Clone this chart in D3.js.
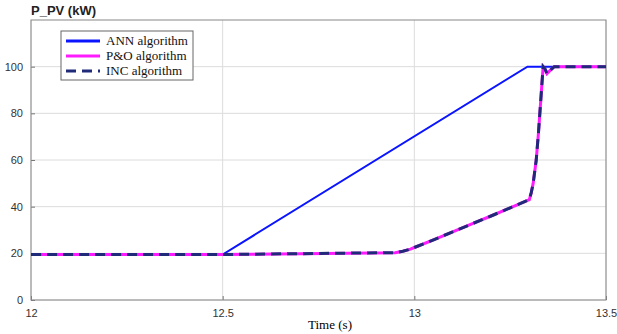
<!DOCTYPE html>
<html>
<head>
<meta charset="utf-8">
<script src="https://cdn.jsdelivr.net/npm/d3@7"></script>
<style>
body { margin: 0; background: #fff; }
svg { display: block; }
</style>
</head>
<body>
<div id="chart"></div>
<script>
// time (s)
var annTime = [12, 12.5, 13.295, 13.5];
var annPower = [19.5, 19.5, 100, 100];

var poTime = [12, 12.5, 12.95, 12.97, 12.99, 13.0, 13.05, 13.1, 13.15, 13.2, 13.25, 13.3, 13.305, 13.31, 13.318, 13.324, 13.33, 13.336, 13.341, 13.346, 13.355, 13.365, 13.5];
var poPower = [19.5, 19.5, 20.3, 20.9, 21.8, 22.5, 25.8, 29.2, 32.6, 36.0, 39.5, 43, 46, 50, 60, 72, 86, 100, 99, 97, 98.5, 100, 100];

// INC follows P&O closely
var incTime = poTime.slice();
var incPower = poPower.slice();

var xTicks = [12, 12.5, 13, 13.5];
var yTicks = [0, 20, 40, 60, 80, 100];

var width = 617, height = 334;
var plotLeft = 31, plotRight = 606, plotTop = 20, plotBottom = 300;

var x = d3.scaleLinear().domain([12, 13.5]).range([plotLeft, plotRight]);
var y = d3.scaleLinear().domain([0, 120]).range([plotBottom, plotTop]);

var svg = d3.select("#chart").append("svg")
	.attr("width", width)
	.attr("height", height);

// grid
svg.append("g").selectAll("line")
	.data(xTicks).enter().append("line")
	.attr("x1", d => x(d)).attr("x2", d => x(d))
	.attr("y1", plotTop).attr("y2", plotBottom)
	.attr("stroke", "#dcdcdc").attr("stroke-width", 1);
svg.append("g").selectAll("line")
	.data(yTicks).enter().append("line")
	.attr("x1", plotLeft).attr("x2", plotRight)
	.attr("y1", d => y(d)).attr("y2", d => y(d))
	.attr("stroke", "#dcdcdc").attr("stroke-width", 1);

// axes
var xAxis = d3.axisBottom(x).tickValues(xTicks).tickSize(-4).tickPadding(9)
	.tickFormat(d3.format("~g"));
var yAxis = d3.axisLeft(y).tickValues(yTicks).tickSize(-4).tickPadding(8);

var gx = svg.append("g").attr("transform", "translate(0," + plotBottom + ")").call(xAxis);
var gy = svg.append("g").attr("transform", "translate(" + plotLeft + ",0)").call(yAxis);
[gx, gy].forEach(function(g){
	g.select(".domain").remove();
	g.selectAll("line").attr("stroke", "#777");
	g.selectAll("text").attr("fill", "#333")
		.style("font-family", "Liberation Sans, Arial, sans-serif")
		.style("font-size", "11px");
});

// box
svg.append("rect")
	.attr("x", plotLeft).attr("y", plotTop)
	.attr("width", plotRight - plotLeft).attr("height", plotBottom - plotTop)
	.attr("fill", "none").attr("stroke", "#888").attr("stroke-width", 1);

function series(t, p){
	return t.map(function(d, i){ return [d, p[i]]; });
}

var line = d3.line()
	.x(function(d){ return x(d[0]); })
	.y(function(d){ return y(d[1]); });

svg.append("path")
	.attr("d", line(series(annTime, annPower)))
	.attr("fill", "none").attr("stroke", "#0a14ff").attr("stroke-width", 2);

svg.append("path")
	.attr("d", line(series(poTime, poPower)))
	.attr("fill", "none").attr("stroke", "#ff1aff").attr("stroke-width", 3);

svg.append("path")
	.attr("d", line(series(incTime, incPower)))
	.attr("fill", "none").attr("stroke", "#1f2a78").attr("stroke-width", 3)
	.attr("stroke-dasharray", "10,6");

// titles
svg.append("text")
	.attr("x", plotLeft).attr("y", 15)
	.style("font-family", "Liberation Sans, Arial, sans-serif")
	.style("font-size", "13px")
	.style("font-weight", "bold")
	.attr("fill", "#222")
	.text("P_PV (kW)");

svg.append("text")
	.attr("x", 330).attr("y", 329)
	.attr("text-anchor", "middle")
	.style("font-family", "Liberation Serif, Times New Roman, serif")
	.style("font-size", "13px")
	.text("Time (s)");

// legend
var legendNames = ["ANN algorithm", "P&O algorithm", "INC algorithm"];
var legendColors = ["#0a14ff", "#ff1aff", "#1f2a78"];
var legend = svg.append("g");
legend.append("rect")
	.attr("x", 61).attr("y", 31).attr("width", 132).attr("height", 49)
	.attr("fill", "#fff").attr("stroke", "#666").attr("stroke-width", 1);

var rows = legend.selectAll("g.row").data(legendNames).enter().append("g")
	.attr("class", "row")
	.attr("transform", function(d, i){ return "translate(0," + (41 + i * 15) + ")"; });

rows.append("line")
	.attr("x1", 66).attr("x2", 100).attr("y1", 0).attr("y2", 0)
	.attr("stroke", function(d, i){ return legendColors[i]; })
	.attr("stroke-width", 3)
	.attr("stroke-dasharray", function(d, i){ return i == 2 ? "10,6" : null; });

rows.append("text")
	.attr("x", 106).attr("y", 4)
	.style("font-family", "Liberation Serif, Times New Roman, serif")
	.style("font-size", "13px")
	.attr("fill", "#111")
	.text(function(d){ return d; });
</script>
</body>
</html>
